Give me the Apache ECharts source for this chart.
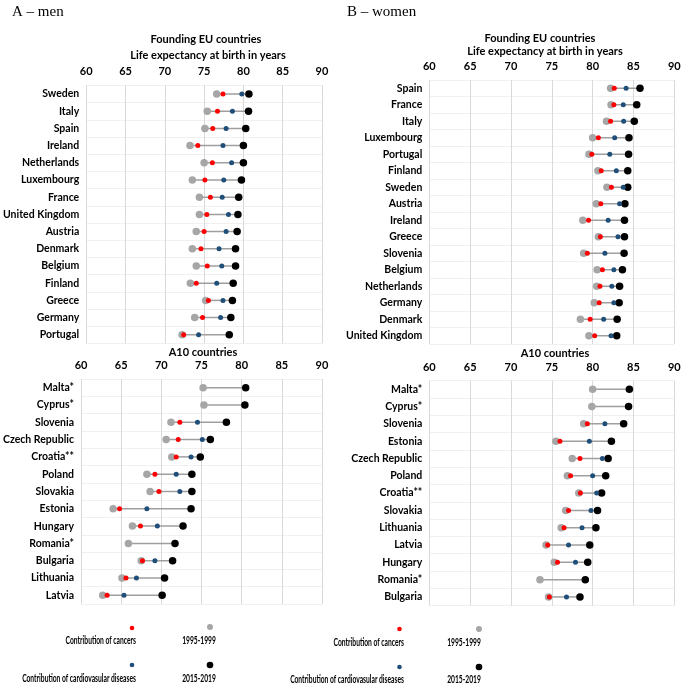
<!DOCTYPE html>
<html><head><meta charset="utf-8">
<script src="https://cdn.jsdelivr.net/npm/echarts@6/dist/echarts.min.js"></script>
<style>html,body{margin:0;padding:0;background:#fff}#c{width:685px;height:689px}</style>
</head><body><div id="c"></div>
<script>
// ---- Data: men, founding EU countries ----
const menFoundCountries = ['Sweden','Italy','Spain','Ireland','Netherlands','Luxembourg','France','United Kingdom','Austria','Denmark','Belgium','Finland','Greece','Germany','Portugal'];
const menFound1995 = [76.6,75.4,75.1,73.2,75.0,73.5,74.4,74.4,74.0,73.5,74.0,73.25,75.2,73.8,72.2];
const menFound2015 = [80.7,80.65,80.3,80.0,80.0,79.75,79.4,79.3,79.2,79.0,79.0,78.7,78.6,78.4,78.2];
const menFoundCancer = [77.4,76.7,76.1,74.2,76.05,75.1,75.8,75.35,75.0,74.6,75.4,74.0,75.55,74.8,72.4];
const menFoundCvd = [79.8,78.6,77.8,77.4,78.5,77.5,77.3,78.1,77.8,76.9,77.25,76.6,77.4,77.1,74.3];
// ---- Data: men, A10 countries ----
const menA10Countries = ['Malta*','Cyprus*','Slovenia','Czech Republic','Croatia**','Poland','Slovakia','Estonia','Hungary','Romania*','Bulgaria','Lithuania','Latvia'];
const menA101995 = [75.2,75.3,71.2,70.6,71.3,68.2,68.6,64.0,66.4,65.9,67.5,65.1,62.7];
const menA102015 = [80.5,80.4,78.1,76.1,74.85,73.8,73.8,73.7,72.7,71.7,71.4,70.4,70.1];
const menA10Cancer = [null,null,72.3,72.1,71.85,69.2,69.7,64.8,67.4,null,67.65,65.6,63.25];
const menA10Cvd = [null,null,74.5,75.1,73.7,71.85,72.3,68.2,69.5,null,69.2,66.9,65.35];
// ---- Data: women, founding EU countries ----
const womenFoundCountries = ['Spain','France','Italy','Luxembourg','Portugal','Finland','Sweden','Austria','Ireland','Greece','Slovenia','Belgium','Netherlands','Germany','Denmark','United Kingdom'];
const womenFound1995 = [82.2,82.25,81.7,80.0,79.55,80.65,81.75,80.45,78.8,80.7,78.9,80.55,80.5,80.2,78.5,79.55];
const womenFound2015 = [85.8,85.4,85.1,84.45,84.4,84.3,84.3,83.95,83.9,83.9,83.85,83.65,83.3,83.25,83.0,82.95];
const womenFoundCancer = [82.65,82.6,82.2,80.7,79.9,81.05,82.3,81.0,79.5,80.95,79.35,81.2,80.9,80.8,79.7,80.25];
const womenFoundCvd = [84.1,83.75,83.8,82.7,82.1,82.9,83.75,83.3,81.9,83.1,81.5,82.6,82.35,82.6,81.35,82.25];
// ---- Data: women, A10 countries ----
const womenA10Countries = ['Malta*','Cyprus*','Slovenia','Estonia','Czech Republic','Poland','Croatia**','Slovakia','Lithuania','Latvia','Hungary','Romania*','Bulgaria'];
const womenA101995 = [80.0,79.9,78.9,75.5,77.5,76.9,78.3,76.7,76.15,74.3,75.3,73.55,74.6];
const womenA102015 = [84.5,84.4,83.8,82.3,81.9,81.6,81.1,80.6,80.4,79.65,79.4,79.1,78.45];
const womenA10Cancer = [null,null,79.35,76.0,78.45,77.3,78.5,77.05,76.5,74.5,75.7,null,74.7];
const womenA10Cvd = [null,null,81.5,79.6,81.2,80.0,80.5,79.8,78.7,77.05,77.9,null,76.8];
// ---- Axis ticks ----
const xMin = 60, xMax = 90, xStep = 5;

const panels = [
  {c: menFoundCountries, a: menFound1995, b: menFound2015, r: menFoundCancer, v: menFoundCvd, grid: {left:79, top:85.4, width:243, height:258}},
  {c: menA10Countries, a: menA101995, b: menA102015, r: menA10Cancer, v: menA10Cvd, grid: {left:79, top:379, width:243, height:225}},
  {c: womenFoundCountries, a: womenFound1995, b: womenFound2015, r: womenFoundCancer, v: womenFoundCvd, grid: {left:429.3, top:80, width:245, height:264}},
  {c: womenA10Countries, a: womenA101995, b: womenA102015, r: womenA10Cancer, v: womenA10Cvd, grid: {left:429.3, top:380.6, width:245, height:225}}
];

const FONT = 'Lato';
const grids = [], xAxes = [], yAxes = [], series = [];
panels.forEach((p, i) => {
  grids.push(p.grid);
  xAxes.push({type:'value', gridIndex:i, position:'top', min:xMin, max:xMax, interval:xStep,
    axisLine:{show:false}, axisTick:{show:false},
    axisLabel:{color:'#000', fontFamily:FONT, fontWeight:'bold', fontSize:11, margin:8},
    splitLine:{show:true, lineStyle:{color:'#d9d9d9', width:1}}});
  yAxes.push({type:'category', gridIndex:i, data:p.c, inverse:true,
    axisLine:{show:false}, axisTick:{show:false},
    axisLabel:{color:'#000', fontFamily:FONT, fontWeight:'bold', fontSize:10.5, margin:7},
    splitLine:{show:true, lineStyle:{color:'#f0f0f0', width:1}}});
  series.push({type:'custom', xAxisIndex:i, yAxisIndex:i, silent:true,
    data: p.c.map((c, k) => [p.a[k], p.b[k], k]),
    renderItem: (params, api) => {
      const s = api.coord([api.value(0), api.value(2)]);
      const e = api.coord([api.value(1), api.value(2)]);
      return {type:'line', shape:{x1:s[0], y1:s[1], x2:e[0], y2:e[1]}, style:{stroke:'#9f9f9f', lineWidth:1.5}};
    }, z:1});
  const pts = arr => p.c.map((c, k) => [arr[k], c]).filter(d => d[0] != null);
  series.push({type:'scatter', xAxisIndex:i, yAxisIndex:i, data:pts(p.a), symbolSize:7.5, itemStyle:{color:'#a6a6a6', opacity:1}, z:2});
  series.push({type:'scatter', xAxisIndex:i, yAxisIndex:i, data:pts(p.b), symbolSize:7.5, itemStyle:{color:'#000', opacity:1}, z:3});
  series.push({type:'scatter', xAxisIndex:i, yAxisIndex:i, data:pts(p.r), symbolSize:5, itemStyle:{color:'#ff0000', opacity:1}, z:4});
  series.push({type:'scatter', xAxisIndex:i, yAxisIndex:i, data:pts(p.v), symbolSize:5, itemStyle:{color:'#1f4e79', opacity:1}, z:5});
});

function txt(x, y, s, opts) {
  return Object.assign({type:'text', x:x, y:y, style:Object.assign({text:s, fill:'#000', font:'bold 11px ' + FONT, textAlign:'center', textVerticalAlign:'middle'}, opts||{})});
}
function dot(x, y, r, color) { return {type:'circle', shape:{cx:x, cy:y, r:r}, style:{fill:color}}; }
function legendText(x, y, s, align) {
  return {type:'text', x:x, y:y, scaleX:0.56, style:{text:s, fill:'#000', font:'bold 12px ' + FONT, textAlign:align, textVerticalAlign:'middle'}};
}

const graphic = [
  {type:'text', x:12, y:12, style:{text:'A – men', fill:'#000', font:'15px "Liberation Serif"', textVerticalAlign:'middle'}},
  {type:'text', x:347, y:12, style:{text:'B – women', fill:'#000', font:'15px "Liberation Serif"', textVerticalAlign:'middle'}},
  txt(206, 39, 'Founding EU countries'),
  txt(208, 55, 'Life expectancy at birth in years'),
  txt(203, 352, 'A10 countries'),
  txt(540, 38, 'Founding EU countries'),
  txt(545, 51, 'Life expectancy at birth in years'),
  txt(555, 353, 'A10 countries'),
  // legend left
  dot(132, 628, 2.3, '#ff0000'), legendText(136, 640.5, 'Contribution of cancers', 'right'),
  dot(210, 627, 3, '#a6a6a6'), legendText(199, 640.5, '1995-1999', 'center'),
  dot(132, 665, 2.3, '#1f4e79'), legendText(136, 678, 'Contribution of cardiovasular diseases', 'right'),
  dot(210, 665, 3.3, '#000'), legendText(199, 678, '2015-2019', 'center'),
  // legend right
  dot(399.5, 629, 2.3, '#ff0000'), legendText(404, 642, 'Contribution of cancers', 'right'),
  dot(479, 629, 3, '#a6a6a6'), legendText(464, 642, '1995-1999', 'center'),
  dot(399.5, 667, 2.3, '#1f4e79'), legendText(404, 679.5, 'Contribution of cardiovasular diseases', 'right'),
  dot(479, 667, 3.3, '#000'), legendText(464, 679.5, '2015-2019', 'center')
];

const chart = echarts.init(document.getElementById('c'), null, {renderer:'canvas'});
chart.setOption({animation:false, backgroundColor:'#fff', grid:grids, xAxis:xAxes, yAxis:yAxes, series:series, graphic:graphic});
</script></body></html>
